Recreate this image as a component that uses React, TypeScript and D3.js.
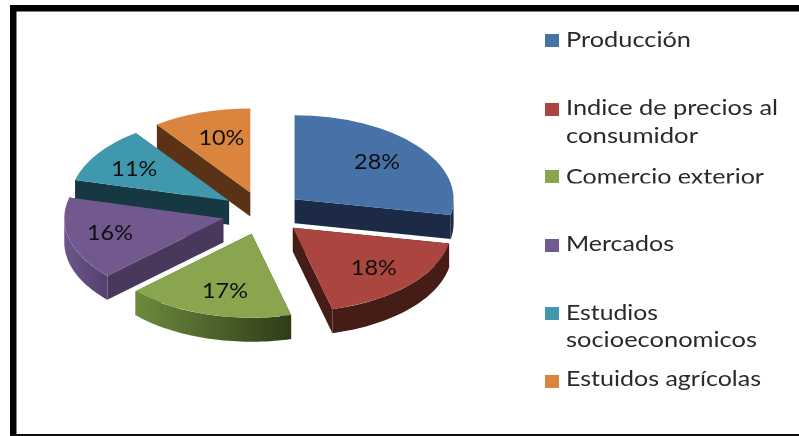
import React from "react";
import * as d3 from "d3";

const categories = ["Producción", "Indice de precios al consumidor", "Comercio exterior", "Mercados", "Estudios socioeconomicos", "Estuidos agrícolas"];
const values = [28, 18, 17, 16, 11, 10];
const topColors = ["#4672a8", "#ab4440", "#89a54e", "#71588f", "#4198af", "#db843d"];
const wallColors = ["#1b2c45", "#451a18", "#35421c", "#4a375c", "#183943", "#5a3214"];
const outerLeft = ["#1b2c45", "#451a18", "#6b8a3e", "#6d5589", "#183943", "#5a3214"];
const outerRight = ["#1b2c45", "#451a18", "#2f3c18", "#55406f", "#183943", "#5a3214"];
const legendLines = [["Producción"], ["Indice de precios al", "consumidor"], ["Comercio exterior"], ["Mercados"], ["Estudios", "socioeconomicos"], ["Estuidos agrícolas"]];
const legendWidths = [[125], [212, 132], [198], [108], [92, 191], [195]];
const legendBaselines = [[47], [115, 143], [184], [251], [320, 347], [386]];
const swatchY = [34, 103, 170, 239, 307, 375];
const drawOrder = [5, 4, 0, 3, 1, 2];
const labelNudgeX = [-2, 1, 4, -7, -4, 5];
const labelNudgeY = [-1, 0, 1, 0, 0, 0];

const W = 799, H = 436;
const cx = 263, cy = 213, rx = 159, ratio = 0.528, explode = 41, depth = 24, labelFrac = 0.69;
const ry = rx * ratio;

export default function App() {
  const arcs = d3.pie<number>().sort(null)(values);
  const topArc = d3.arc<d3.PieArcDatum<number>>().innerRadius(0).outerRadius(rx);
  const line = d3.line<[number, number]>();
  const slices = arcs.map((a, i) => {
    const mid = (a.startAngle + a.endAngle) / 2;
    const ax = cx + explode * Math.sin(mid);
    const ay = cy - explode * ratio * Math.cos(mid);
    const pt = (t: number, dz = 0): [number, number] => [ax + rx * Math.sin(t), ay - ry * Math.cos(t) + dz];
    const wall = (t: number) => line([[ax, ay], pt(t), pt(t, depth), [ax, ay + depth]])! + "Z";
    const s = Math.max(a.startAngle, Math.PI / 2), e = Math.min(a.endAngle, 1.5 * Math.PI);
    let outer = "";
    if (e > s) {
      const ts = d3.range(0, 41).map((k) => s + ((e - s) * k) / 40);
      outer = line([...ts.map((t) => pt(t)), ...ts.slice().reverse().map((t) => pt(t, depth))])! + "Z";
    }
    return {
      a, i, ax, ay, outer,
      startWall: wall(a.startAngle), endWall: wall(a.endAngle),
      lx: ax + rx * labelFrac * Math.sin(mid) + labelNudgeX[i], ly: ay - ry * labelFrac * Math.cos(mid) + labelNudgeY[i],
      x0: pt(s)[0], x1: pt(e)[0],
    };
  });
  return (
    <svg width={W} height={H} style={{ position: "absolute", left: 0, top: 0, background: "#fff" }} fontFamily="Lato, sans-serif">
      <defs>
        <filter id="soft" x="-2%" y="-2%" width="104%" height="104%">
          <feGaussianBlur stdDeviation="0.7" />
        </filter>
        {slices.map((d) => (
          <linearGradient key={d.i} id={`out${d.i}`} gradientUnits="userSpaceOnUse" x1={Math.min(d.x0, d.x1)} x2={Math.max(d.x0, d.x1)} y1={0} y2={0}>
            <stop offset="0" stopColor={outerLeft[d.i]} />
            <stop offset="1" stopColor={outerRight[d.i]} />
          </linearGradient>
        ))}
        <clipPath id="clipCom"><rect x={560} y={160} width={220} height={23.5} /></clipPath>
      </defs>
      <g filter="url(#soft)">
        <rect x={10} y={5} width={W - 10} height={6.5} fill="#000" />
        <rect x={10} y={5} width={6.5} height={H - 5} fill="#000" />
        <rect x={10} y={434} width={W - 10} height={2} fill="#111" />
        {drawOrder.map((i) => {
          const d = slices[i];
          return (
            <g key={i}>
              <path d={d.startWall} fill={wallColors[i]} />
              <path d={d.endWall} fill={wallColors[i]} />
              {d.outer && <path d={d.outer} fill={`url(#out${i})`} />}
              <path d={topArc(d.a)!} transform={`translate(${d.ax},${d.ay}) scale(1,${ratio})`} fill={topColors[i]} />
            </g>
          );
        })}
        {slices.map((d) => (
          <text key={d.i} x={d.lx} y={d.ly} dy="0.35em" textAnchor="middle" fontSize={21} fill="#111" textLength={46} lengthAdjust="spacingAndGlyphs">
            {values[d.i]}%
          </text>
        ))}
        {categories.map((c, i) => (
          <g key={c}>
            <rect x={545} y={swatchY[i]} width={14} height={13} fill={topColors[i]} />
            <g clipPath={i === 2 ? "url(#clipCom)" : undefined}>
              {legendLines[i].map((l, k) => (
                <text key={l} x={566} y={legendBaselines[i][k]} fontSize={21} fill="#2a2a2a" textLength={legendWidths[i][k]} lengthAdjust="spacingAndGlyphs">
                  {l}
                </text>
              ))}
            </g>
          </g>
        ))}
      </g>
    </svg>
  );
}
